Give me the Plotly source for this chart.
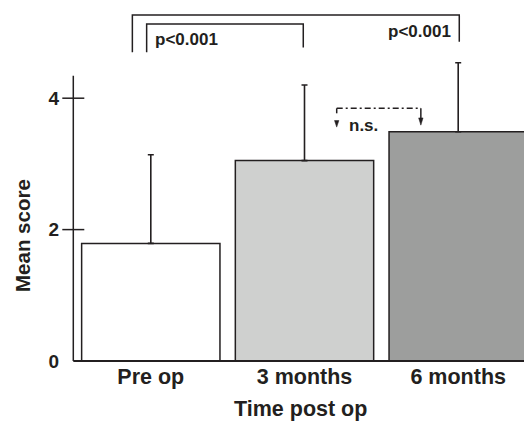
import plotly.graph_objects as go

# ---- data ----
categories = ["Pre op", "3 months", "6 months"]
mean_score = [1.79, 3.05, 3.49]
sd_upper = [1.35, 1.15, 1.05]
bar_colors = ["#ffffff", "#cfd0cf", "#9d9e9d"]
y_tick_vals = [0, 2, 4]

INK = "#231f20"
FONT = "Liberation Sans, Arial, Helvetica, sans-serif"

# ---- layout geometry (pixels) ----
W, H = 524, 421
PLOT_L, PLOT_R, PLOT_T, PLOT_B = 60, 524, 0, 365
X0PX, XS = 150.8, 153.7      # pixel of category 0, pixels per category
Y0PX, YS = 361.0, 65.7       # pixel of value 0, pixels per unit

x_range = [(PLOT_L - X0PX) / XS, (PLOT_R - X0PX) / XS]
y_range = [(Y0PX - PLOT_B) / YS, (Y0PX - PLOT_T) / YS]

AXIS_X = (73.3 - X0PX) / XS
TICK_HALF = 11 / XS
AXIS_TOP = 4.34

fig = go.Figure()
fig.add_trace(go.Bar(
    x=list(range(len(categories))),
    y=mean_score,
    width=0.9,
    marker=dict(color=bar_colors, line=dict(color=INK, width=1.5)),
    error_y=dict(type="data", symmetric=False, array=sd_upper,
                 arrayminus=[0] * len(sd_upper),
                 color=INK, thickness=1.6, width=3),
    showlegend=False,
    hoverinfo="skip",
))

line = dict(color=INK, width=1.5)
shapes = []
# y axis line, tick crosses, baseline
shapes.append(dict(type="line", xref="x", yref="y", x0=AXIS_X, x1=AXIS_X,
                   y0=0, y1=AXIS_TOP, line=line))
for v in [2, 4]:
    shapes.append(dict(type="line", xref="x", yref="y", x0=AXIS_X - TICK_HALF,
                       x1=AXIS_X + TICK_HALF, y0=v, y1=v, line=line))
shapes.append(dict(type="line", xref="x", yref="y", x0=AXIS_X, x1=x_range[1],
                   y0=0, y1=0, line=dict(color=INK, width=2)))

# significance brackets: (x_left, x_right, y_top, y_left_end, y_right_end)
brackets = [
    (-0.120, 2.007, 5.266, 4.70, 4.86),
    (-0.027, 0.992, 5.130, 4.70, 4.77),
]
for xl, xr, yt, yl, yr in brackets:
    shapes.append(dict(type="path", xref="x", yref="y",
                       path=f"M{xl},{yl} L{xl},{yt} L{xr},{yt} L{xr},{yr}",
                       line=line))

# n.s. dash-dot bracket between 3 and 6 months
NS_L, NS_R, NS_Y = 1.2095, 1.757, 3.846
shapes.append(dict(type="line", xref="x", yref="y", x0=NS_L, x1=NS_R,
                   y0=NS_Y, y1=NS_Y,
                   line=dict(color=INK, width=1.5, dash="6px,3px,2px,3px")))
shapes.append(dict(type="line", xref="x", yref="y", x0=NS_L, x1=NS_L,
                   y0=NS_Y, y1=3.77, line=line))
shapes.append(dict(type="line", xref="x", yref="y", x0=NS_R, x1=NS_R,
                   y0=NS_Y, y1=3.68, line=line))
HW = 2.2 / XS
for xc, base, tip in [(NS_L, 3.66, 3.56), (NS_R, 3.70, 3.59)]:
    shapes.append(dict(type="path", xref="x", yref="y",
                       path=f"M{xc - HW},{base} L{xc + HW},{base} L{xc},{tip} Z",
                       fillcolor=INK, line=dict(color=INK, width=0.5)))

annotations = [
    dict(text="p<0.001", x=0.014, y=4.90, xref="x", yref="y", xanchor="left",
         yanchor="middle", showarrow=False,
         font=dict(family=FONT, size=17, color=INK, weight="bold")),
    dict(text="p<0.001", x=1.968, y=5.01, xref="x", yref="y", xanchor="right",
         yanchor="middle", showarrow=False,
         font=dict(family=FONT, size=17, color=INK, weight="bold")),
    dict(text="n.s.", x=1.387, y=3.58, xref="x", yref="y", xanchor="center",
         yanchor="middle", showarrow=False,
         font=dict(family=FONT, size=17, color=INK, weight="bold")),
    dict(text="Time post op", x=0.976, y=(PLOT_B - 409) / (PLOT_B - PLOT_T),
         xref="x", yref="paper", xanchor="center", yanchor="middle",
         showarrow=False,
         font=dict(family=FONT, size=21.5, color=INK, weight="bold")),
    dict(text="Mean score", x=(22 - PLOT_L) / (PLOT_R - PLOT_L),
         y=(PLOT_B - 236) / (PLOT_B - PLOT_T), xref="paper", yref="paper",
         xanchor="center", yanchor="middle", textangle=-90, showarrow=False,
         font=dict(family=FONT, size=20.5, color=INK, weight="bold")),
]

fig.update_layout(
    width=W, height=H,
    margin=dict(l=PLOT_L, r=W - PLOT_R, t=PLOT_T, b=H - PLOT_B, pad=0),
    paper_bgcolor="white", plot_bgcolor="white",
    shapes=shapes, annotations=annotations,
    xaxis=dict(range=x_range, tickvals=list(range(len(categories))),
               ticktext=categories, showgrid=False, zeroline=False,
               showline=False, ticks="", ticklabelstandoff=-4,
               tickfont=dict(family=FONT, size=21.5, color=INK, weight="bold")),
    yaxis=dict(range=y_range, tickvals=y_tick_vals, showgrid=False,
               zeroline=False, showline=False, ticks="",
               tickfont=dict(family=FONT, size=19, color=INK, weight="bold")),
)

fig.write_html(
    "out.html",
    config={"displayModeBar": False, "staticPlot": True},
    post_script="document.body.style.margin='0px';"
                "document.body.style.overflow='hidden';",
)
